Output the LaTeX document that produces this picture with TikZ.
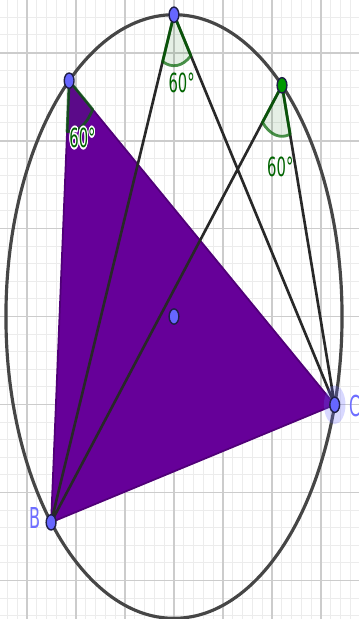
\documentclass[tikz,border=0pt]{standalone}
\usepackage{fontspec}
\setsansfont{DejaVu Sans}
\usepackage{contour}
\contourlength{0.45pt}
\usetikzlibrary{calc}
\definecolor{gmin}{RGB}{236,236,236}
\definecolor{gmaj}{RGB}{204,204,204}
\definecolor{kr}{RGB}{70,70,70}
\definecolor{seg}{RGB}{40,40,40}
\definecolor{lila}{RGB}{102,0,153}
\definecolor{lilarand}{RGB}{80,0,120}
\definecolor{gruen}{RGB}{0,100,0}
\definecolor{pblau}{RGB}{102,102,255}
\definecolor{ptgruen}{RGB}{0,153,0}
\definecolor{prand}{RGB}{30,30,70}
\definecolor{lbl}{RGB}{110,110,255}
\tikzset{
  every picture/.style={line cap=round, line join=round},
  % Gitter
  gitter/.style={gmin, line width=0.3pt},
  gitterhaupt/.style={gmaj, line width=0.55pt},
  % Linien
  kreislinie/.style={kr, line width=0.9pt},
  strecke/.style={seg, line width=0.75pt},
  % Flächen
  dreieck/.style={fill=lila, draw=lilarand, line width=0.5pt},
  winkel/.style={fill=gruen, fill opacity=0.1, draw=gruen, draw opacity=0.7, line width=0.8pt},
  % Punkte
  punkt/.style={fill=#1, draw=prand, line width=0.4pt},
  punkt/.default=pblau,
  % Beschriftung, gestaucht wie im Original
  wtext/.style={gruen, font=\sffamily\fontsize{7.5}{9}\selectfont, xscale=0.56, inner sep=0pt},
  ptext/.style={lbl, font=\sffamily\fontsize{8.2}{10}\selectfont, xscale=0.56, inner sep=0pt},
}
\begin{document}
\begin{tikzpicture}[x=0.49cm, y=0.88cm]
  \def\Rk{3.43} % Umkreisradius
  \def\wr{0.58} % Radius der Winkelbögen
  \useasboundingbox (-3.551,-3.4375) rectangle (3.776,3.597);
  \clip (-3.551,-3.4375) rectangle (3.776,3.597);
  \fill[white] (-3.551,-3.4375) rectangle (3.776,3.597);
  % Gitter
  \foreach \i in {-18,...,19} \draw[gitter] (\i/5,-3.5) -- (\i/5,3.6);
  \foreach \j in {-18,...,18} \draw[gitter] (-3.6,\j/5) -- (3.8,\j/5);
  \foreach \i in {-3,...,3} \draw[gitterhaupt] (\i,-3.5) -- (\i,3.6);
  \foreach \j in {-3,...,3} \draw[gitterhaupt] (-3.6,\j) -- (3.8,\j);
  % Punkte auf dem Kreis
  \coordinate (O) at (0,0);
  \coordinate (T) at (90:\Rk);
  \coordinate (A) at (128.6:\Rk);
  \coordinate (G) at (50:\Rk);
  \coordinate (C) at (-17:\Rk);
  \coordinate (B) at (223:\Rk);
  % Dreieck ABC und Kreis
  \path[dreieck] (A) -- (B) -- (C) -- cycle;
  \draw[kreislinie] (O) circle[radius=\Rk];
  % Sehnen
  \draw[strecke] (T) -- (B) (T) -- (C) (G) -- (B) (G) -- (C);
  % Peripheriewinkel über BC
  \path[winkel] (A) -- ++(265.8:\wr) arc[start angle=265.8, end angle=325.8, radius=\wr] -- cycle;
  \path[winkel] (T) -- ++(246.5:\wr) arc[start angle=246.5, end angle=306.5, radius=\wr] -- cycle;
  \path[winkel] (G) -- ++(226.5:\wr) arc[start angle=226.5, end angle=286.5, radius=\wr] -- cycle;
  % Punkte
  \fill[pblau, fill opacity=0.25] (C) circle[radius=0.22];
  \foreach \p in {T,A,B,C,O} \path[punkt] (\p) ellipse[x radius=0.1, y radius=0.087];
  \path[punkt=ptgruen] (G) ellipse[x radius=0.1, y radius=0.087];
  % Beschriftung
  \node[wtext] (wA) at (-1.867,2.02) {\contour{white}{60°}};
  \node[wtext] (wT) at (0.157,2.65) {60°};
  \node[wtext] (wG) at (2.17,1.70) {60°};
  \node[ptext] (lB) at (-2.83,-2.29) {B};
  \node[ptext] (lC) at (3.69,-1.02) {C};
\end{tikzpicture}
\end{document}
